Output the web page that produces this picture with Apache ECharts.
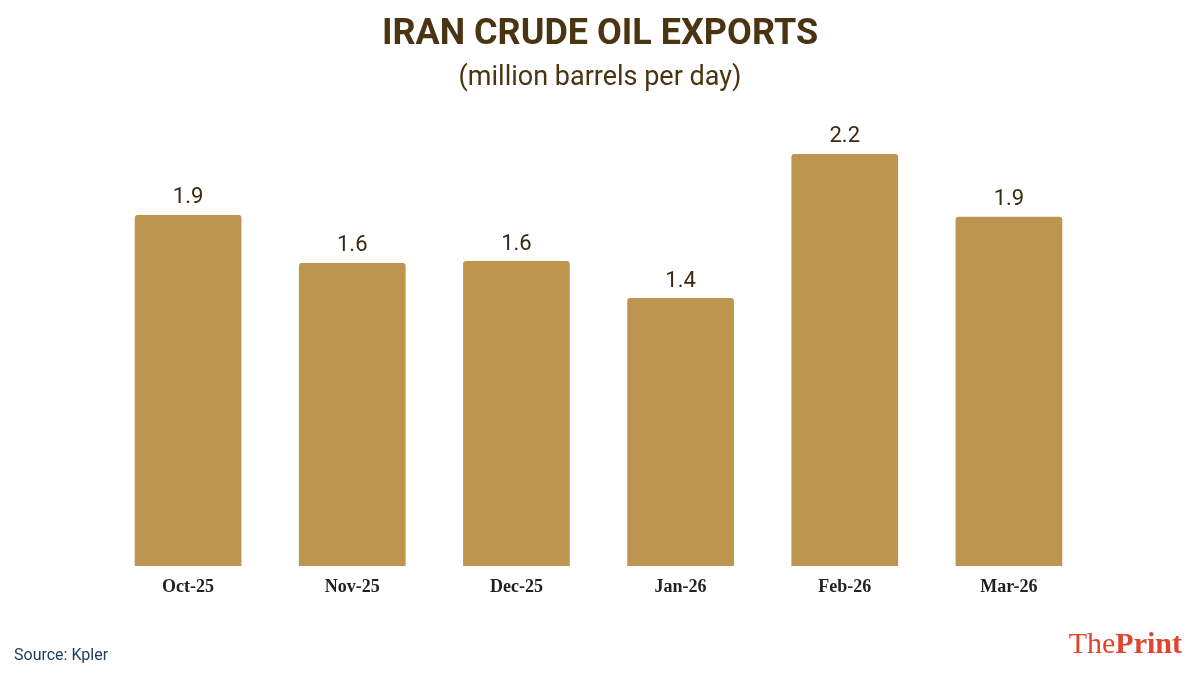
<!DOCTYPE html>
<html>
<head>
<meta charset="utf-8">
<script src="https://cdn.jsdelivr.net/npm/echarts@6/dist/echarts.min.js"></script>
<style>html,body{margin:0;padding:0;background:#fff}#chart{width:1200px;height:675px}</style>
</head>
<body>
<div id="chart"></div>
<script>
// months and exports (million barrels per day)
const months = ['Oct-25', 'Nov-25', 'Dec-25', 'Jan-26', 'Feb-26', 'Mar-26'];
const exportsMbd = [1.9, 1.64, 1.65, 1.45, 2.23, 1.89];
const valueLabels = ['1.9', '1.6', '1.6', '1.4', '2.2', '1.9'];

const chart = echarts.init(document.getElementById('chart'));
chart.setOption({
    backgroundColor: '#fff',
    title: [{
        text: 'IRAN CRUDE OIL EXPORTS',
        left: 'center', top: 12,
        textStyle: { fontFamily: 'Roboto', fontWeight: 'bold', fontSize: 36, color: '#4a3412' }
    }, {
        text: '(million barrels per day)',
        left: 'center', top: 60,
        textStyle: { fontFamily: 'Roboto', fontWeight: 'normal', fontSize: 27, color: '#4a3412' }
    }],
    grid: { left: 106, right: 109, top: 104, bottom: 109 },
    xAxis: {
        type: 'category',
        data: months,
        axisLine: { show: false },
        axisTick: { show: false },
        axisLabel: { margin: 12, fontFamily: 'Liberation Serif', fontWeight: 'bold', fontSize: 18, color: '#222' }
    },
    yAxis: { type: 'value', min: 0, max: 2.5, show: false },
    series: [{
        type: 'bar',
        data: exportsMbd,
        barWidth: '65%',
        itemStyle: { color: '#bd954f', borderRadius: [3, 3, 0, 0] },
        label: {
            show: true, position: 'top', distance: 6,
            fontFamily: 'Roboto', fontSize: 22, color: '#3a2a10',
            formatter: p => valueLabels[p.dataIndex]
        }
    }],
    graphic: [{
        type: 'text', left: 14, top: 648,
        style: { text: 'Source: Kpler', font: '16px Roboto', fill: '#1f3b63' }
    }, {
        type: 'text', right: 18, top: 630,
        style: {
            text: '{a|The}{b|Print}',
            rich: {
                a: { font: '30px "Liberation Serif"', fill: '#e0452c' },
                b: { font: 'bold 30px "Liberation Serif"', fill: '#e0452c' }
            }
        }
    }]
});
</script>
</body>
</html>
